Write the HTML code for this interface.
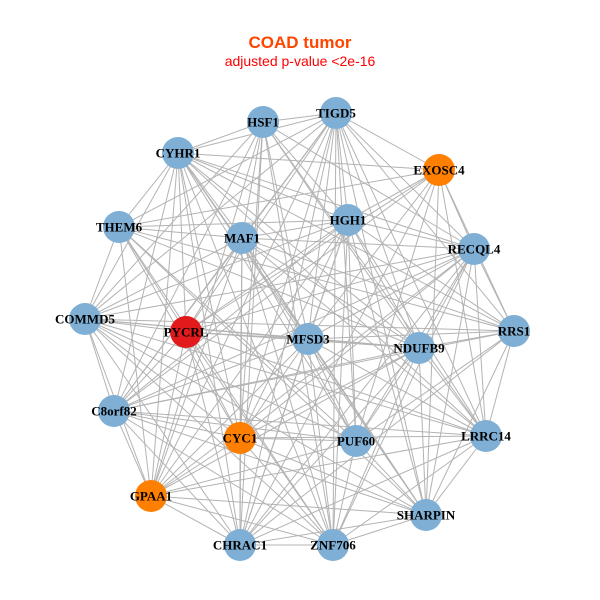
<!DOCTYPE html>
<html><head><meta charset="utf-8"><style>
html,body{margin:0;padding:0;background:#fff;}
svg{display:block}
.l{font-family:"Liberation Serif",serif;font-weight:bold;font-size:13px;fill:#000;text-anchor:middle;dominant-baseline:central}
</style></head><body>
<svg id="s" width="600" height="600" viewBox="0 0 600 600">
<rect width="600" height="600" fill="#fff"/>
<g id="e" stroke="#b3b3b3" stroke-width="1"></g>
<g id="n"></g>
<text x="300" y="48" text-anchor="middle" font-family="Liberation Sans,sans-serif" font-weight="bold" font-size="17" fill="#ff4500">COAD tumor</text>
<text x="300" y="66" text-anchor="middle" font-family="Liberation Sans,sans-serif" font-size="14" fill="#ff0000">adjusted p-value &lt;2e-16</text>
</svg>
<script>
var N=[["HSF1",263,122,0],["TIGD5",336,113,0],["CYHR1",178,153,0],["EXOSC4",439,170,1],["HGH1",348,220,0],["MAF1",242,238,0],["THEM6",119,227,0],["RECQL4",474,249,0],["COMMD5",85,319,0],["PYCRL",186,332,2],["MFSD3",308,339,0],["NDUFB9",419,348,0],["RRS1",514,331,0],["C8orf82",114,411,0],["CYC1",240,438,1],["PUF60",356,441,0],["LRRC14",486,436,0],["GPAA1",151,496,1],["SHARPIN",426,515,0],["CHRAC1",240,545,0],["ZNF706",333,545,0]];
var C=["#7fafd5","#ff8000","#e31a1c"];
var ns="http://www.w3.org/2000/svg",e=document.getElementById("e"),g=document.getElementById("n");
for(var i=0;i<N.length;i++)for(var j=i+1;j<N.length;j++){
 if((i*7+j*3)%9==0)continue;
 var l=document.createElementNS(ns,"line");
 l.setAttribute("x1",N[i][1]);l.setAttribute("y1",N[i][2]);l.setAttribute("x2",N[j][1]);l.setAttribute("y2",N[j][2]);e.appendChild(l);}
N.forEach(function(d){var c=document.createElementNS(ns,"circle");c.setAttribute("cx",d[1]);c.setAttribute("cy",d[2]);c.setAttribute("r",16);c.setAttribute("fill",C[d[3]]);g.appendChild(c);});
N.forEach(function(d){var t=document.createElementNS(ns,"text");t.setAttribute("x",d[1]);t.setAttribute("y",d[2]);t.setAttribute("class","l");t.textContent=d[0];g.appendChild(t);});
</script>
</body></html>
